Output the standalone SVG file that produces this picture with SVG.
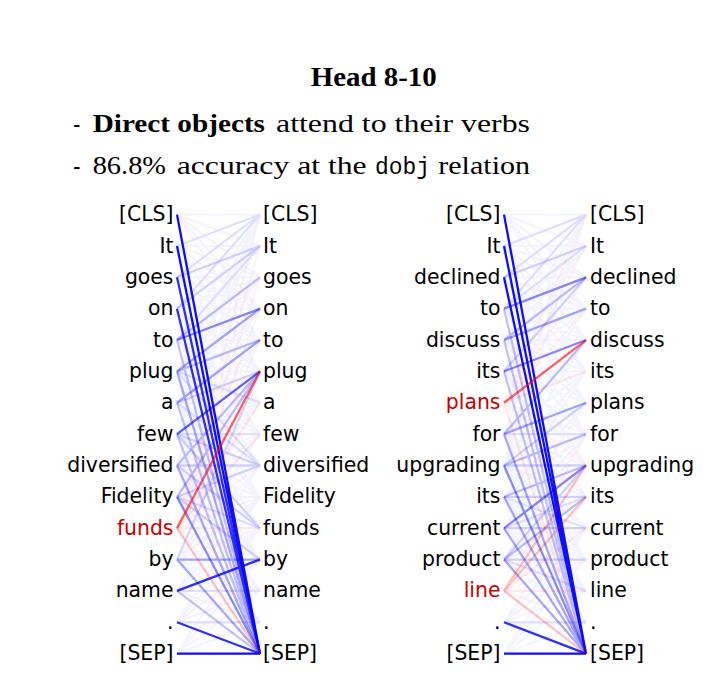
<svg xmlns="http://www.w3.org/2000/svg" width="726" height="684" viewBox="0 0 726 684">
<style>
.hd{font-family:"Liberation Serif","Times New Roman",serif;font-size:25px;fill:#000}
.tt{font-family:"Liberation Serif","Times New Roman",serif;font-size:27px;font-weight:bold;fill:#000}
.bo{font-weight:bold}
.mo{font-family:"Liberation Mono","Courier New",monospace;font-size:23px;fill:#000}
.tk{font-family:"DejaVu Sans","Liberation Sans",sans-serif;font-size:20.4px;fill:#000}
.e{text-anchor:end}
.red{fill:#cc0000}
.cn path{fill:none;stroke-width:2.3;vector-effect:non-scaling-stroke}
.b{stroke:#0000ff}
.r{stroke:#ff0000}
.w1{stroke-opacity:.045}.w2{stroke-opacity:.09}.w3{stroke-opacity:.15}.w4{stroke-opacity:.24}.w5{stroke-opacity:.34}
.w6{stroke-opacity:.46}.w7{stroke-opacity:.62}.w8{stroke-opacity:.82}.w9{stroke-opacity:.95}
</style>
<rect width="726" height="684" fill="#fff"/>
<g id="header">
<text class="tt" x="310.7" y="86" textLength="126" lengthAdjust="spacingAndGlyphs">Head 8-10</text>
<text class="hd" x="73.3" y="132.3" textLength="7" lengthAdjust="spacingAndGlyphs">-</text>
<text class="hd bo" x="92.7" y="132.3" textLength="172.3" lengthAdjust="spacingAndGlyphs">Direct objects</text>
<text class="hd" x="276" y="132.3" textLength="254" lengthAdjust="spacingAndGlyphs">attend to their verbs</text>
<text class="hd" x="73.3" y="174.3" textLength="7" lengthAdjust="spacingAndGlyphs">-</text>
<text class="hd" x="92.7" y="174.3" textLength="73.3" lengthAdjust="spacingAndGlyphs">86.8%</text>
<text class="hd" x="176.7" y="174.3" textLength="190" lengthAdjust="spacingAndGlyphs">accuracy at the</text>
<text class="mo" x="375" y="174.3" textLength="55" lengthAdjust="spacingAndGlyphs">dobj</text>
<text class="hd" x="438.3" y="174.3" textLength="91.7" lengthAdjust="spacingAndGlyphs">relation</text>
</g>
<g id="connectors" class="cn">
<g id="connectors-left" transform="translate(177 214.6) scale(83 31.36)">
<path class="b w1" d="M0 0L1 0M0 0L1 1M0 0L1 2M0 0L1 3M0 0L1 4M0 1L1 0M0 1L1 1M0 1L1 2M0 1L1 3M0 1L1 4M0 1L1 5M0 2L1 0M0 2L1 1M0 2L1 2M0 2L1 3M0 2L1 4M0 2L1 5M0 2L1 6M0 3L1 0M0 3L1 1M0 3L1 2M0 3L1 3M0 3L1 4M0 3L1 5M0 3L1 6M0 3L1 7M0 4L1 0M0 4L1 1M0 4L1 2M0 4L1 3M0 4L1 4M0 4L1 5M0 4L1 6M0 4L1 7M0 4L1 8M0 5L1 0M0 5L1 1M0 5L1 2M0 5L1 3M0 5L1 4M0 5L1 5M0 5L1 6M0 5L1 7M0 5L1 8M0 5L1 9M0 6L1 0M0 6L1 2M0 6L1 3M0 6L1 4M0 6L1 5M0 6L1 6M0 6L1 7M0 6L1 8M0 6L1 9M0 6L1 10M0 7L1 0M0 7L1 3M0 7L1 4M0 7L1 5M0 7L1 6M0 7L1 7M0 7L1 8M0 7L1 9M0 7L1 10M0 7L1 11M0 8L1 0M0 8L1 4M0 8L1 5M0 8L1 6M0 8L1 7M0 8L1 8M0 8L1 9M0 8L1 10M0 8L1 11M0 8L1 12M0 9L1 5M0 9L1 6M0 9L1 7M0 9L1 8M0 9L1 9M0 9L1 10M0 9L1 11M0 9L1 12M0 9L1 13M0 11L1 7M0 11L1 8M0 11L1 9M0 11L1 10M0 11L1 11M0 11L1 12M0 11L1 13M0 12L1 8M0 12L1 9M0 12L1 10M0 12L1 11M0 12L1 12M0 12L1 13M0 13L1 9M0 13L1 10M0 13L1 11M0 13L1 12M0 13L1 13M0 14L1 10M0 14L1 11M0 14L1 12M0 14L1 13"/>
<path class="b w2" d="M0 6L1 8M0 5L1 8M0 13L1 13M0 9L1 10M0 12L1 12M0 3L1 0M0 2L1 0M0 1L1 0M0 7L1 7M0 5L1 6M0 4L1 1"/>
<path class="b w3" d="M0 6L1 5M0 11L1 5M0 7L1 10M0 8L1 10M0 9L1 11M0 3L1 1M0 2L1 1M0 7L1 8M0 9L1 8M0 8L1 8"/>
<path class="b w4" d="M0 4L1 14M0 6L1 14M0 7L1 14M0 12L1 14M0 4L1 2M0 5L1 4M0 8L1 5M0 9L1 5"/>
<path class="b w5" d="M0 5L1 14M0 8L1 14M0 11L1 14M0 5L1 3M0 6L1 4M0 11L1 11"/>
<path class="b w6" d="M0 4L1 3M0 9L1 14"/>
<path class="b w7" d="M0 7L1 5"/>
<path class="b w8" d="M0 2L1 14M0 3L1 14M0 13L1 14M0 12L1 11"/>
<path class="b w9" d="M0 0L1 14M0 1L1 14M0 14L1 14"/>
<path class="r w1" d="M0 10L1 0M0 10L1 1M0 10L1 2M0 10L1 3M0 10L1 4M0 10L1 8M0 10L1 9M0 10L1 11M0 10L1 12M0 10L1 13"/>
<path class="r w2" d="M0 10L1 6M0 10L1 10M0 10L1 7"/>
<path class="r w4" d="M0 10L1 14"/>
<path class="r w7" d="M0 10L1 5"/>
</g>
<g id="connectors-right" transform="translate(504 214.6) scale(82 31.36)">
<path class="b w1" d="M0 0L1 0M0 0L1 1M0 0L1 2M0 0L1 3M0 0L1 4M0 1L1 0M0 1L1 1M0 1L1 2M0 1L1 3M0 1L1 4M0 1L1 5M0 2L1 0M0 2L1 1M0 2L1 2M0 2L1 3M0 2L1 4M0 2L1 5M0 2L1 6M0 3L1 0M0 3L1 1M0 3L1 2M0 3L1 3M0 3L1 4M0 3L1 5M0 3L1 6M0 3L1 7M0 4L1 0M0 4L1 1M0 4L1 2M0 4L1 3M0 4L1 4M0 4L1 5M0 4L1 6M0 4L1 7M0 4L1 8M0 5L1 0M0 5L1 1M0 5L1 2M0 5L1 3M0 5L1 4M0 5L1 5M0 5L1 6M0 5L1 7M0 5L1 8M0 5L1 9M0 7L1 0M0 7L1 3M0 7L1 4M0 7L1 5M0 7L1 6M0 7L1 7M0 7L1 8M0 7L1 9M0 7L1 10M0 7L1 11M0 8L1 0M0 8L1 4M0 8L1 5M0 8L1 6M0 8L1 7M0 8L1 8M0 8L1 9M0 8L1 10M0 8L1 11M0 8L1 12M0 9L1 5M0 9L1 6M0 9L1 7M0 9L1 8M0 9L1 9M0 9L1 10M0 9L1 11M0 9L1 12M0 9L1 13M0 10L1 6M0 10L1 7M0 10L1 8M0 10L1 9M0 10L1 10M0 10L1 11M0 10L1 12M0 10L1 13M0 11L1 7M0 11L1 8M0 11L1 9M0 11L1 10M0 11L1 11M0 11L1 12M0 11L1 13M0 13L1 9M0 13L1 10M0 13L1 11M0 13L1 12M0 13L1 13M0 14L1 10M0 14L1 11M0 14L1 12M0 14L1 13"/>
<path class="b w2" d="M0 1L1 0M0 2L1 0M0 3L1 0M0 13L1 13M0 7L1 7M0 10L1 9M0 11L1 12M0 9L1 10M0 3L1 1"/>
<path class="b w3" d="M0 8L1 6M0 11L1 8M0 11L1 11M0 5L1 2M0 9L1 9M0 2L1 1M0 8L1 8M0 10L1 10"/>
<path class="b w4" d="M0 3L1 14M0 4L1 14M0 5L1 14M0 8L1 7M0 11L1 9M0 9L1 8M0 4L1 2M0 7L1 4"/>
<path class="b w5" d="M0 7L1 6M0 10L1 14M0 11L1 14M0 7L1 14M0 4L1 3M0 9L1 14"/>
<path class="b w6" d="M0 3L1 2M0 5L1 4M0 10L1 8M0 8L1 14"/>
<path class="b w8" d="M0 13L1 14"/>
<path class="b w9" d="M0 0L1 14M0 1L1 14M0 2L1 14M0 14L1 14"/>
<path class="r w1" d="M0 6L1 0M0 6L1 1M0 6L1 2M0 6L1 3M0 6L1 7M0 6L1 8M0 6L1 9M0 12L1 7M0 12L1 11M0 12L1 13"/>
<path class="r w2" d="M0 6L1 14M0 6L1 5M0 12L1 10M0 12L1 12"/>
<path class="r w4" d="M0 12L1 8M0 12L1 9M0 12L1 14"/>
<path class="r w7" d="M0 6L1 4"/>
</g>
</g>
<g id="tokens-a-left" class="tk e">
<g id="a-l0"><text x="173.5" y="221.1">[CLS]</text></g>
<g id="a-l1"><text x="173.5" y="252.5">It</text></g>
<g id="a-l2"><text x="173.5" y="283.8">goes</text></g>
<g id="a-l3"><text x="173.5" y="315.2">on</text></g>
<g id="a-l4"><text x="173.5" y="346.5">to</text></g>
<g id="a-l5"><text x="173.5" y="377.9">plug</text></g>
<g id="a-l6"><text x="173.5" y="409.3">a</text></g>
<g id="a-l7"><text x="173.5" y="440.6">few</text></g>
<g id="a-l8"><text x="173.5" y="472">diversified</text></g>
<g id="a-l9"><text x="173.5" y="503.3">Fidelity</text></g>
<g id="a-l10"><text class="red" x="173.5" y="534.7">funds</text></g>
<g id="a-l11"><text x="173.5" y="566.1">by</text></g>
<g id="a-l12"><text x="173.5" y="597.4">name</text></g>
<g id="a-l13"><text x="173.5" y="628.8">.</text></g>
<g id="a-l14"><text x="173.5" y="660.1">[SEP]</text></g>
</g>
<g id="tokens-a-right" class="tk">
<g id="a-r0"><text x="263" y="221.1">[CLS]</text></g>
<g id="a-r1"><text x="263" y="252.5">It</text></g>
<g id="a-r2"><text x="263" y="283.8">goes</text></g>
<g id="a-r3"><text x="263" y="315.2">on</text></g>
<g id="a-r4"><text x="263" y="346.5">to</text></g>
<g id="a-r5"><text x="263" y="377.9">plug</text></g>
<g id="a-r6"><text x="263" y="409.3">a</text></g>
<g id="a-r7"><text x="263" y="440.6">few</text></g>
<g id="a-r8"><text x="263" y="472">diversified</text></g>
<g id="a-r9"><text x="263" y="503.3">Fidelity</text></g>
<g id="a-r10"><text x="263" y="534.7">funds</text></g>
<g id="a-r11"><text x="263" y="566.1">by</text></g>
<g id="a-r12"><text x="263" y="597.4">name</text></g>
<g id="a-r13"><text x="263" y="628.8">.</text></g>
<g id="a-r14"><text x="263" y="660.1">[SEP]</text></g>
</g>
<g id="tokens-b-left" class="tk e">
<g id="b-l0"><text x="500.5" y="221.1">[CLS]</text></g>
<g id="b-l1"><text x="500.5" y="252.5">It</text></g>
<g id="b-l2"><text x="500.5" y="283.8">declined</text></g>
<g id="b-l3"><text x="500.5" y="315.2">to</text></g>
<g id="b-l4"><text x="500.5" y="346.5">discuss</text></g>
<g id="b-l5"><text x="500.5" y="377.9">its</text></g>
<g id="b-l6"><text class="red" x="500.5" y="409.3">plans</text></g>
<g id="b-l7"><text x="500.5" y="440.6">for</text></g>
<g id="b-l8"><text x="500.5" y="472">upgrading</text></g>
<g id="b-l9"><text x="500.5" y="503.3">its</text></g>
<g id="b-l10"><text x="500.5" y="534.7">current</text></g>
<g id="b-l11"><text x="500.5" y="566.1">product</text></g>
<g id="b-l12"><text class="red" x="500.5" y="597.4">line</text></g>
<g id="b-l13"><text x="500.5" y="628.8">.</text></g>
<g id="b-l14"><text x="500.5" y="660.1">[SEP]</text></g>
</g>
<g id="tokens-b-right" class="tk">
<g id="b-r0"><text x="590" y="221.1">[CLS]</text></g>
<g id="b-r1"><text x="590" y="252.5">It</text></g>
<g id="b-r2"><text x="590" y="283.8">declined</text></g>
<g id="b-r3"><text x="590" y="315.2">to</text></g>
<g id="b-r4"><text x="590" y="346.5">discuss</text></g>
<g id="b-r5"><text x="590" y="377.9">its</text></g>
<g id="b-r6"><text x="590" y="409.3">plans</text></g>
<g id="b-r7"><text x="590" y="440.6">for</text></g>
<g id="b-r8"><text x="590" y="472">upgrading</text></g>
<g id="b-r9"><text x="590" y="503.3">its</text></g>
<g id="b-r10"><text x="590" y="534.7">current</text></g>
<g id="b-r11"><text x="590" y="566.1">product</text></g>
<g id="b-r12"><text x="590" y="597.4">line</text></g>
<g id="b-r13"><text x="590" y="628.8">.</text></g>
<g id="b-r14"><text x="590" y="660.1">[SEP]</text></g>
</g>
</svg>
